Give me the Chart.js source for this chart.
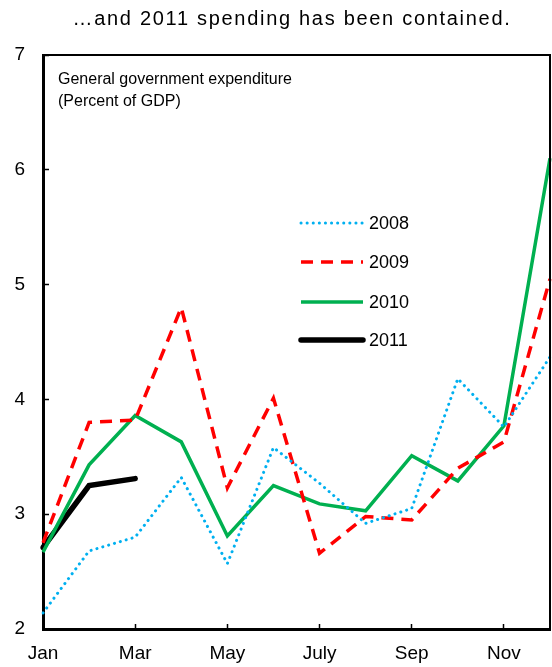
<!DOCTYPE html>
<html>
<head>
<meta charset="utf-8">
<script src="https://cdn.jsdelivr.net/npm/chart.js@4.4.1/dist/chart.umd.min.js"></script>
<style>
  html, body { margin: 0; padding: 0; background: #fff; }
  #wrap { width: 552px; height: 667px; }
</style>
</head>
<body>
<div id="wrap"><canvas id="spendChart" width="552" height="667"></canvas></div>
<script>
const months = ["Jan", "Feb", "Mar", "Apr", "May", "June", "July", "Aug", "Sep", "Oct", "Nov", "Dec"]
const shownMonths = ["Jan", "Mar", "May", "July", "Sep", "Nov"]
const yTicks = [2, 3, 4, 5, 6, 7]

const spend2008 = [2.14, 2.68, 2.80, 3.32, 2.57, 3.58, 3.27, 2.92, 3.05, 4.18, 3.76, 4.37]
const spend2009 = [2.75, 3.80, 3.82, 4.80, 3.23, 4.01, 2.66, 2.98, 2.95, 3.40, 3.63, 5.05]
const spend2010 = [2.67, 3.43, 3.86, 3.63, 2.81, 3.25, 3.09, 3.03, 3.51, 3.29, 3.77, 6.10]
const spend2011 = [2.71, 3.25, 3.31]

const FONT = "'Liberation Sans', Arial, sans-serif"

// title, note, frame and legend drawn on the canvas
const decorations = {
  id: "decorations",
  afterDraw(chart) {
    const { ctx, chartArea } = chart
    ctx.save()
    ctx.fillStyle = "#000"
    ctx.textBaseline = "middle"
    ctx.textAlign = "center"
    ctx.font = "20px " + FONT
    ctx.letterSpacing = "1.7px"
    ctx.fillText("\u2026and 2011 spending has been contained.", 292, 19)
    ctx.letterSpacing = "0px"

    ctx.textAlign = "left"
    ctx.font = "16px " + FONT
    ctx.fillText("General government expenditure", 58, 80)
    ctx.fillText("(Percent of GDP)", 58, 102)

    // frame top + right
    ctx.strokeStyle = "#000"
    ctx.lineWidth = 2
    ctx.beginPath()
    ctx.moveTo(chartArea.left, chartArea.top)
    ctx.lineTo(chartArea.right, chartArea.top)
    ctx.lineTo(chartArea.right, chartArea.bottom)
    ctx.stroke()

    // legend
    const rows = [223, 262, 302, 340]
    chart.data.datasets.forEach((ds, i) => {
      const y = rows[i]
      ctx.strokeStyle = ds.borderColor
      ctx.lineWidth = ds.borderWidth
      ctx.lineCap = ds.borderCapStyle || "butt"
      ctx.setLineDash(ds.borderDash || [])
      ctx.beginPath()
      ctx.moveTo(301, y)
      ctx.lineTo(363, y)
      ctx.stroke()
      ctx.setLineDash([])
      ctx.fillStyle = "#000"
      ctx.font = "18px " + FONT
      ctx.fillText(ds.label, 369, y + 1)
    })
    ctx.restore()
  },
}

const ctx = document.getElementById("spendChart").getContext("2d")
new Chart(ctx, {
  type: "line",
  data: {
    labels: months,
    datasets: [
      {
        label: "2008",
        data: spend2008,
        borderColor: "#00b0f0",
        borderWidth: 3,
        borderDash: [0.1, 6],
        borderCapStyle: "round",
        pointRadius: 0,
        tension: 0,
      },
      {
        label: "2009",
        data: spend2009,
        borderColor: "#ff0000",
        borderWidth: 3.5,
        borderDash: [12, 8],
        pointRadius: 0,
        tension: 0,
      },
      {
        label: "2010",
        data: spend2010,
        borderColor: "#00b050",
        borderWidth: 3.5,
        pointRadius: 0,
        tension: 0,
      },
      {
        label: "2011",
        data: spend2011,
        borderColor: "#000000",
        borderWidth: 5.5,
        borderCapStyle: "round",
        pointRadius: 0,
        tension: 0,
      },
    ],
  },
  options: {
    responsive: false,
    animation: false,
    layout: { padding: { top: 55, right: 2, left: 0, bottom: 0 } },
    plugins: {
      legend: { display: false },
      tooltip: { enabled: false },
      title: { display: false },
    },
    scales: {
      x: {
        offset: false,
        grid: { drawOnChartArea: false, tickLength: -5, tickWidth: 1.5, color: "#000" },
        border: { color: "#000", width: 3 },
        ticks: {
          autoSkip: false,
          maxRotation: 0,
          padding: 18,
          color: "#000",
          font: { family: FONT, size: 19 },
          callback: function (value) {
            const lbl = this.getLabelForValue(value)
            return shownMonths.includes(lbl) ? lbl : null
          },
        },
        afterFit: (scale) => { scale.height = 38 },
      },
      y: {
        min: 2,
        max: 7,
        afterBuildTicks: (scale) => { scale.ticks = yTicks.map((v) => ({ value: v })) },
        grid: { drawOnChartArea: false, tickLength: -6, tickWidth: 1.5, color: "#000" },
        border: { color: "#000", width: 3 },
        ticks: {
          padding: 24,
          color: "#000",
          font: { family: FONT, size: 19 },
        },
        afterFit: (scale) => { scale.width = 43 },
      },
    },
  },
  plugins: [decorations],
})
</script>
</body>
</html>
